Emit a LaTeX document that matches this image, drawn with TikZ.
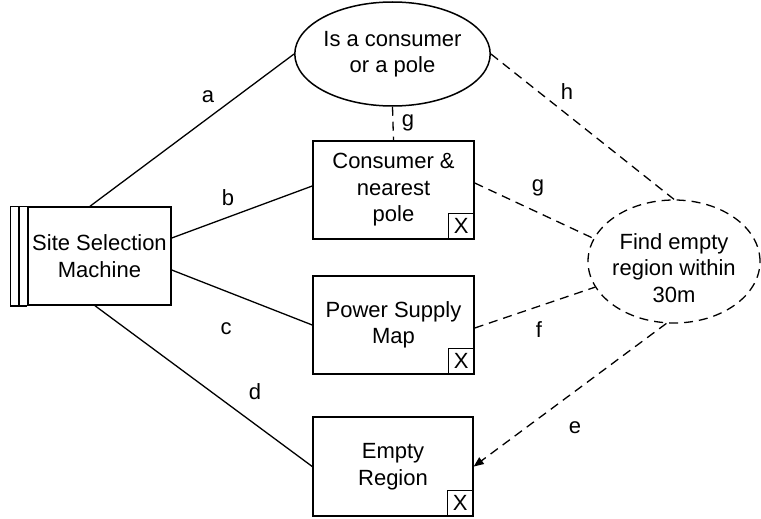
\documentclass[tikz,border=0pt]{standalone}
\usepackage{fontspec}
\setmainfont{Liberation Sans}
\usetikzlibrary{shapes.geometric,arrows}

\begin{document}
\begin{tikzpicture}[x=1pt,y=-1pt,
every node/.style={align=center,
font=\fontsize{22}{26.5}\selectfont
},
box/.style={%
draw,line width=1.5pt,inner sep=0pt,
minimum width=161pt,minimum height=98pt
},
oval/.style={%
draw,ellipse,line width=1.5pt,inner sep=0pt,
minimum width=161pt,minimum height=104pt
},
xbox/.style={%
draw,line width=1.2pt,inner sep=0pt,
minimum size=26pt,anchor=south east
},
link/.style={line width=1.3pt},
dlink/.style={line width=1.3pt,dash pattern=on 9pt off 6pt}]
\useasboundingbox (0,0) rectangle (761,519);
\node[box,minimum width=143pt]at(99.5,256)(ssm){Site Selection\\Machine};
\draw[line width=1.5pt] (ssm.north west) -| ([xshift=-17pt]ssm.south west) -- (ssm.south west);
\draw[line width=1.5pt] ([xshift=-8.5pt]ssm.north west) -- ([xshift=-8.5pt]ssm.south west);
\node[oval]at(392.5,54)(pole){Is a consumer\\or a pole};
\node[box]at(393.5,190)(cons){Consumer \&\\nearest\\pole};
\node[box]at(393.5,325)(psm){Power Supply\\Map};
\node[box,minimum width=160pt,minimum height=99pt]at(393,466.5)(empty){Empty\\Region};
\node[xbox]at(cons.south east)(consx){X};
\node[xbox]at(psm.south east)(psmx){X};
\node[xbox]at(empty.south east)(emptyx){X};
\node[oval,dlink,minimum width=172pt,minimum height=123pt,
label={[yshift=-6.5pt]center:Find empty\\region within\\30m}]at(674,261.5)(find){};
% solid links out of the machine
\draw[link] ([xshift=-9.5pt]ssm.north)--(pole.west);
\draw[link] ([yshift=18pt]ssm.east)--([yshift=4pt]cons.west);
\draw[link] ([yshift=-14pt]ssm.east)--(psm.west);
\draw[link] ([xshift=-4.5pt]ssm.south)--(empty.west);
\node at(208,97)(la){a};
\node at(228,198)(lb){b};
\node at(226,329)(lc){c};
\node at(255,392)(ld){d};
% dashed links
\draw[dlink] (pole.south)--(cons.north);
\draw[dlink] ([yshift=7pt]cons.east)--(find.164);
\draw[dlink] (pole.east)--(find.north);
\draw[dlink] ([yshift=-3pt]psm.east)--(find.198);
\draw[dlink,-{triangle 45}] (find.263)--(empty.east);
\node at(408,123)(lg1){g};
\node at(538,188)(lg2){g};
\node at(567,92)(lh){h};
\node at(539,330)(lf){f};
\node at(575,428)(le){e};
\end{tikzpicture}
\end{document}
